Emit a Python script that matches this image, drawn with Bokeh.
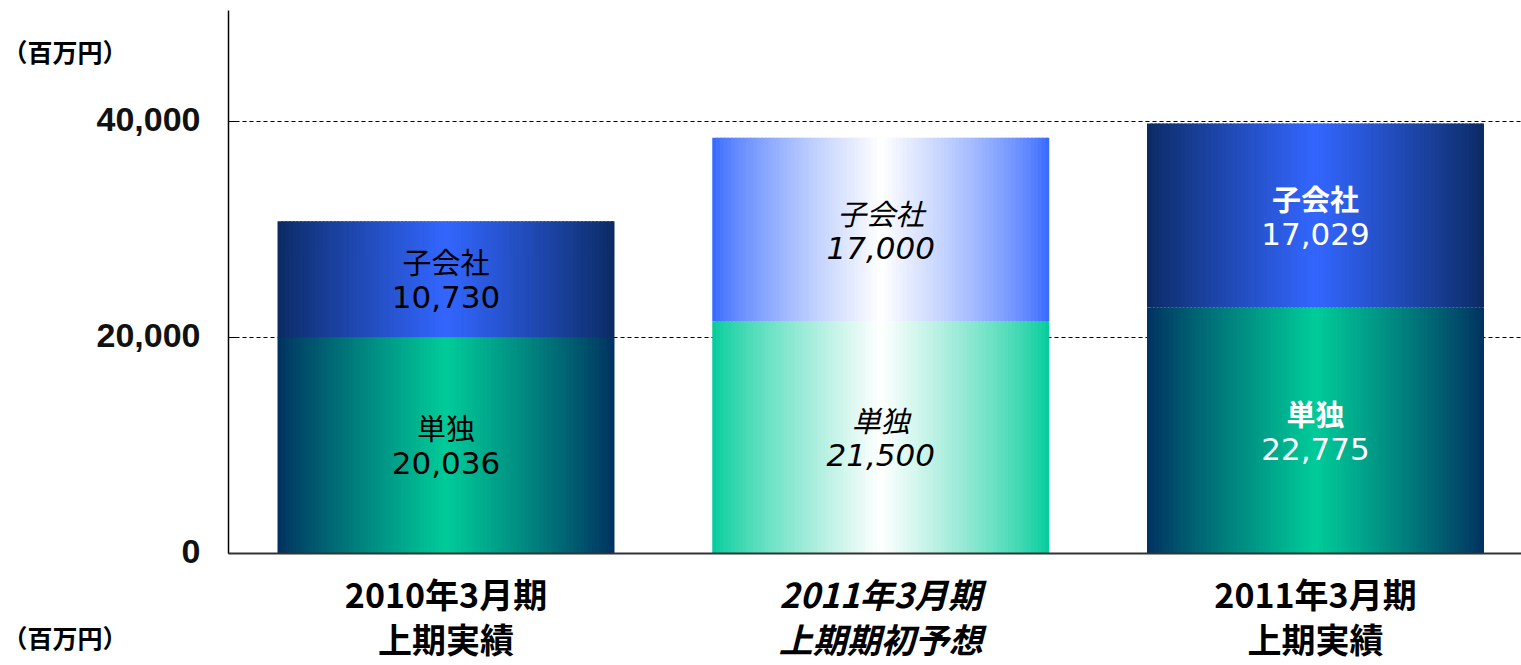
from bokeh.plotting import figure
from bokeh.models import Range1d, ColumnDataSource
from bokeh.core.properties import value
from bokeh.embed import file_html
from bokeh.resources import INLINE

# ---------------- data ----------------
period_line1 = ["2010年3月期", "2011年3月期", "2011年3月期"]
period_line2 = ["上期実績", "上期期初予想", "上期実績"]
tandoku = [20036, 21500, 22775]       # 単独
kogaisha = [10730, 17000, 17029]      # 子会社
series_names = ["単独", "子会社"]
y_ticks = [0, 20000, 40000]
unit_label = "（百万円）"

# ---------------- layout / style ----------------
W, H = 1521, 665
UPP = 20000 / 216.0          # data units per pixel (vertical)
XPX = 434.75                 # pixels per category (horizontal)
CX0 = 445.5                  # pixel x of first category centre
BASE = 553                   # pixel y of value 0
x0 = -CX0 / XPX
x1 = (W - CX0) / XPX
y1 = BASE * UPP
y0 = -(H - BASE) * UPP
AX = x0 + 228 / XPX          # x of the value axis
AX_TOP = (BASE - 10) * UPP
BAR_W = 337 / XPX
CJK = "Noto Sans CJK JP"

p = figure(width=W, height=H, output_backend="svg", toolbar_location=None,
           x_axis_location=None, y_axis_location=None,
           x_range=Range1d(x0, x1), y_range=Range1d(y0, y1),
           min_border_left=0, min_border_right=0, min_border_top=0, min_border_bottom=0)
p.outline_line_color = None
p.background_fill_color = "white"
p.grid.visible = False

# dashed grid lines (under bars)
grid_vals = [t for t in y_ticks if t > 0]
p.segment(x0=[AX] * len(grid_vals), x1=[x1] * len(grid_vals), y0=grid_vals, y1=grid_vals,
          line_color="black", line_width=1.2, line_dash="4 3")


def hex2rgb(h):
    h = h.lstrip("#")
    return [int(h[i:i + 2], 16) for i in (0, 2, 4)]


def mix(a, b, t):
    ca, cb = hex2rgb(a), hex2rgb(b)
    return "#%02x%02x%02x" % tuple(int(round(ca[k] + (cb[k] - ca[k]) * t)) for k in range(3))


# gradient specs per bar: (edge colour, centre colour, exponent)
grad_specs = [
    {"bottom": ("#003060", "#00cc99", 0.9), "top": ("#0b2a62", "#3366ff", 0.9)},
    {"bottom": ("#00cc99", "#ffffff", 0.8), "top": ("#3366ff", "#ffffff", 0.75)},
    {"bottom": ("#003060", "#00cc99", 0.9), "top": ("#0b2a62", "#3366ff", 0.9)},
]

N = 90
L, R, B, T, C = [], [], [], [], []
for i in range(len(tandoku)):
    segs = {"bottom": (0, tandoku[i]), "top": (tandoku[i], tandoku[i] + kogaisha[i])}
    for seg, (lo, hi) in segs.items():
        edge, centre, ex = grad_specs[i][seg]
        for k in range(N):
            u = (k + 0.5) / N
            t = (1 - abs(2 * u - 1)) ** ex
            left = i - BAR_W / 2 + k * BAR_W / N
            L.append(left)
            R.append(left + BAR_W / N * (1.6 if k < N - 1 else 1.0))
            B.append(lo)
            T.append(hi)
            C.append(mix(edge, centre, t))

p.quad(left="l", right="r", bottom="b", top="t", fill_color="c", line_color=None,
       source=ColumnDataSource(dict(l=L, r=R, b=B, t=T, c=C)))

# ---------------- value axis (drawn through the scales) ----------------
p.segment(x0=[AX], x1=[AX], y0=[0], y1=[AX_TOP], line_color="black", line_width=1.5)
p.segment(x0=[AX] * len(y_ticks), x1=[AX + 8 / XPX] * len(y_ticks), y0=y_ticks, y1=y_ticks,
          line_color="black", line_width=1.2)
p.segment(x0=[AX], x1=[x1], y0=[0], y1=[0], line_color="#333333", line_width=2)
p.text(x=[AX - 28 / XPX] * len(y_ticks), y=[v + 2 * UPP for v in y_ticks],
       text=["{:,}".format(v) for v in y_ticks], text_align="right", text_baseline="middle",
       text_font=value("Liberation Sans"), text_font_size="34px", text_font_style="bold",
       text_color="#111111")

# ---------------- in-bar labels ----------------
styles = [
    dict(color="black", name_style="normal", num_style="normal"),
    dict(color="black", name_style="italic", num_style="italic"),
    dict(color="white", name_style="bold", num_style="normal"),
]
for i in range(len(tandoku)):
    st = styles[i]
    for name, lo, val in [(series_names[0], 0, tandoku[i]),
                          (series_names[1], tandoku[i], kogaisha[i])]:
        mid = lo + val / 2
        p.text(x=[i], y=[mid + 18 * UPP], text=[name], text_align="center",
               text_baseline="middle", text_font=value(CJK), text_font_size="29px",
               text_font_style=st["name_style"], text_color=st["color"])
        p.text(x=[i], y=[mid - 18 * UPP], text=["{:,}".format(val)], text_align="center",
               text_baseline="middle", text_font=value("DejaVu Sans"), text_font_size="31px",
               text_font_style=st["num_style"], text_color=st["color"])

# ---------------- category labels ----------------
cat_styles = ["bold", "bold italic", "bold"]
for i in range(len(period_line1)):
    p.text(x=[i], y=[-40 * UPP], text=[period_line1[i]], text_align="center",
           text_baseline="middle", text_font=value(CJK), text_font_size="34px",
           text_font_style=cat_styles[i], text_color="black")
    p.text(x=[i], y=[-85 * UPP], text=[period_line2[i]], text_align="center",
           text_baseline="middle", text_font=value(CJK), text_font_size="34px",
           text_font_style=cat_styles[i], text_color="black")

# ---------------- unit labels ----------------
p.text(x=[x0 + 2 / XPX] * 2, y=[(BASE - 50) * UPP, -(636 - BASE) * UPP], text=[unit_label] * 2,
       text_align="left", text_baseline="middle", text_font=value(CJK), text_font_size="25px",
       text_font_style="bold", text_color="black")

open("out.html", "w").write(file_html(p, INLINE))
